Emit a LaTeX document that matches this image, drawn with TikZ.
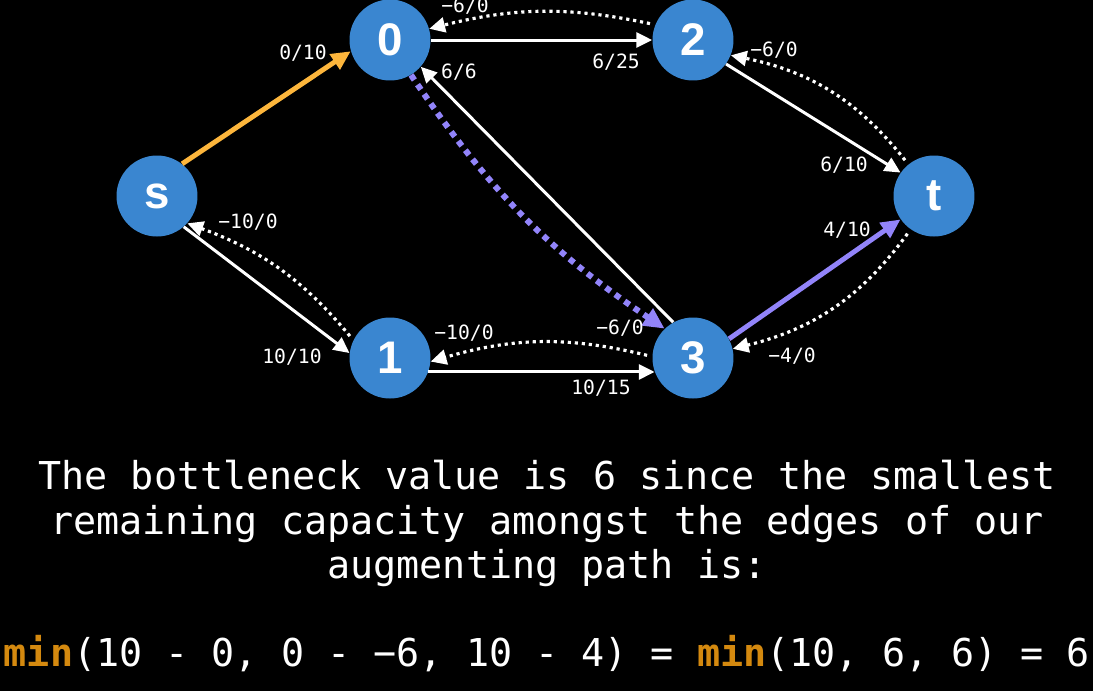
\documentclass[tikz,border=0pt]{standalone}
\usepackage{fontspec}
\setmonofont{DejaVu Sans Mono}
\setsansfont{Liberation Sans}
\usetikzlibrary{arrows.meta}
\definecolor{nodeblue}{RGB}{58,134,208}
\definecolor{pathorange}{RGB}{253,182,60}
\definecolor{pathpurple}{RGB}{146,132,250}
\definecolor{minorange}{RGB}{212,137,15}
\tikzset{
	vertex/.style={circle, fill=nodeblue, minimum size=1.62cm, inner sep=0pt, text=white, font=\sffamily\bfseries\fontsize{26}{26}\selectfont},
	flow/.style={draw=white, line width=1.7pt, -{Triangle[length=9pt, width=8.5pt]}},
	resid/.style={draw=white, line width=1.8pt, dash pattern=on 1.8pt off 2.2pt, shorten <=3pt, -{Triangle[length=9pt, width=8.5pt]}},
	augflow/.style={line width=2.8pt, -{Triangle[length=11pt, width=10pt]}},
	augresid/.style={draw=pathpurple, line width=3.4pt, dash pattern=on 3.4pt off 3.2pt, -{Triangle[length=12pt, width=11pt]}},
	elabel/.style={text=white, inner sep=0pt, font=\ttfamily\fontsize{11.2}{12}\selectfont},
	bodytext/.style={text=white, inner sep=0pt, anchor=base, font=\ttfamily\fontsize{21.85}{25}\selectfont}
}
\begin{document}
\begin{tikzpicture}[x=0.02cm, y=0.02cm]
	\fill[black] (0,0) rectangle (1093,-691);
	\useasboundingbox (0,0) rectangle (1093,-691);
	
	% vertices
	\foreach \n/\x/\y in {s/157/196, 0/390/40, 2/693/40, t/934/196, 1/390/358, 3/693/358}
	{
		\node[vertex] (\n) at (\x, -\y) {\n};
	}
	
	% edges
	\draw[augflow, draw=pathorange] (s.52) -- (0.196);
	\draw[flow] (0.0) -- (2.180);
	\draw[resid] (2.158) to[bend right=13] (0.16);
	\draw[flow] (3.119) -- (0.-41);
	\draw[augresid] (0.-59) to[bend right=11] (3.134);
	\draw[flow] (s.-49) -- (1.173);
	\draw[resid] (1.154) to[bend right=15] (s.-42);
	\draw[flow] (1.-20) -- (3.200);
	\draw[resid] (3.178) to[bend right=15] (1.-5);
	\draw[flow] (2.-36) -- (t.145);
	\draw[resid] (t.129) to[bend right=20] (2.-22);
	\draw[augflow, draw=pathpurple] (3.28) -- (t.215);
	\draw[resid] (t.235) to[bend left=20] (3.13);
	
	% edge labels
	\foreach \i/\x/\y/\t in {a/303/53/0\slash 10, b/465/6/−6\slash 0, c/616/62/6\slash 25, d/459/72/6\slash 6,
		e/774/50/−6\slash 0, f/844/165/6\slash 10, g/847/230/4\slash 10, h/792/356/−4\slash 0,
		i/620/328/−6\slash 0, j/601/388/10\slash 15, k/464/333/−10\slash 0, l/248/222/−10\slash 0, m/292/357/10\slash 10}
	{
		\node[elabel] (lab\i) at (\x, -\y) {\t};
	}
	
	% explanation
	\node[bodytext] (line1) at (547,-489) {The bottleneck value is 6 since the smallest};
	\node[bodytext] (line2) at (547,-534) {remaining capacity amongst the edges of our};
	\node[bodytext] (line3) at (547,-578) {augmenting path is:};
	\node[bodytext] (minline) at (547,-666)
		{\textcolor{minorange}{\textbf{min}}(10 - 0, 0 - −6, 10 - 4) = \textcolor{minorange}{\textbf{min}}(10, 6, 6) = 6};
\end{tikzpicture}
\end{document}
